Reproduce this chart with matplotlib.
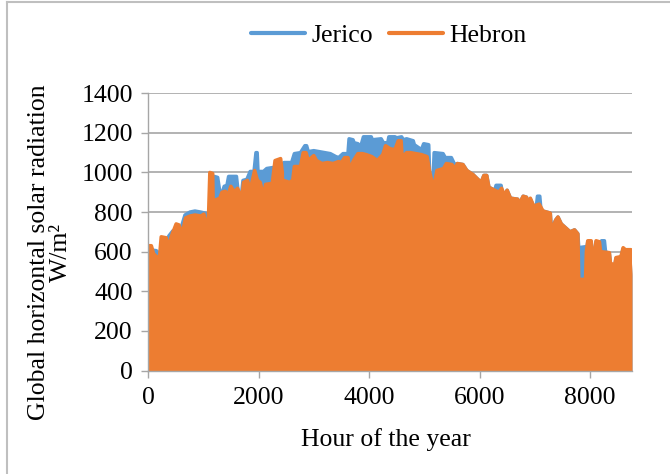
import numpy as np
import matplotlib.pyplot as plt
from matplotlib.lines import Line2D

# daily peak envelope of hourly global horizontal radiation (W/m2)
jerico_hours = [0, 150, 170, 182, 195, 250, 300, 380, 450, 520, 600, 670, 760, 850, 950,
                1030, 1090, 1130, 1170, 1185, 1200, 1260, 1300, 1340, 1380, 1430, 1460, 1600,
                1640, 1690, 1720, 1790, 1850, 1920, 1955, 1975, 1990, 2090, 2150, 2270, 2380,
                2440, 2460, 2600, 2650, 2760, 2840, 2870, 2900, 3000, 3100, 3200, 3300, 3400,
                3450, 3530, 3620, 3640, 3710, 3730, 3800, 3850, 3900, 4040, 4060, 4220, 4260,
                4340, 4360, 4470, 4500, 4590, 4620, 4680, 4800, 4820, 4950, 4990, 5080, 5100,
                5160, 5180, 5340, 5380, 5490, 5550, 5600, 5700, 5770, 5880, 5990, 6030, 6080,
                6130, 6170, 6280, 6300, 6390, 6410, 6450, 6500, 6560, 6690, 6720, 6790, 6850,
                6890, 6920, 6980, 7030, 7050, 7090, 7110, 7150, 7280, 7300, 7380, 7420, 7480,
                7560, 7640, 7720, 7780, 7795, 7920, 7935, 7960, 8020, 8040, 8090, 8110, 8170,
                8190, 8210, 8260, 8280, 8350, 8370, 8450, 8470, 8560, 8600, 8640, 8740, 8760]
jerico_peak = [610, 605, 600, 185, 590, 600, 640, 680, 705, 705, 720, 785, 800, 805, 800,
               795, 790, 780, 785, 580, 980, 975, 900, 895, 930, 935, 980, 980,
               880, 880, 960, 965, 1005, 1005, 1100, 1100, 1005, 1005, 1020, 1025, 1030,
               1040, 1050, 1050, 1095, 1100, 1135, 1135, 1105, 1110, 1105, 1100, 1095, 1080,
               1075, 1095, 1095, 1170, 1165, 1150, 1145, 1130, 1180, 1180, 1165, 1170, 1150,
               1150, 1180, 1180, 1175, 1180, 1165, 1170, 1160, 1140, 1115, 1145, 1140, 960,
               960, 1100, 1095, 1075, 1075, 1040, 1045, 1040, 1010, 990, 960, 950, 985,
               985, 925, 910, 935, 935, 900, 885, 910, 870, 865, 840, 880, 875,
               835, 865, 830, 830, 880, 880, 815, 805, 795, 715, 760, 775, 740,
               720, 700, 710, 690, 620, 625, 600, 650, 650, 600, 600, 650, 645,
               600, 655, 655, 600, 590, 535, 530, 565, 570, 615, 605, 605, 480]

hebron_hours = [0, 60, 100, 170, 190, 205, 240, 330, 365, 380, 440, 510, 560, 620, 680, 760,
                850, 960, 1010, 1060, 1090, 1120, 1170, 1195, 1215, 1300, 1340, 1400, 1440,
                1500, 1560, 1620, 1700, 1730, 1800, 1850, 1930, 1980, 2030, 2090, 2130, 2250,
                2300, 2400, 2430, 2437, 2450, 2560, 2620, 2650, 2760, 2810, 2860, 2900, 3000,
                3050, 3150, 3250, 3350, 3450, 3500, 3560, 3620, 3650, 3720, 3800, 3880, 3950,
                4050, 4150, 4250, 4300, 4380, 4470, 4530, 4580, 4600, 4680, 4750, 4850, 4950,
                5050, 5100, 5150, 5190, 5230, 5350, 5400, 5500, 5550, 5600, 5700, 5770, 5880,
                5990, 6030, 6080, 6130, 6170, 6280, 6350, 6400, 6450, 6500, 6560, 6690, 6720,
                6790, 6850, 6890, 6920, 6980, 7080, 7150, 7280, 7300, 7380, 7420, 7480, 7560,
                7640, 7720, 7780, 7795, 7920, 7935, 7960, 8020, 8040, 8090, 8110, 8170, 8190,
                8350, 8370, 8450, 8470, 8560, 8600, 8640, 8740, 8760]
hebron_peak = [630, 630, 590, 570, 420, 560, 675, 670, 490, 640, 690, 740, 735, 690, 770, 780,
               785, 780, 790, 730, 720, 1000, 995, 560, 860, 870, 900, 905, 880,
               930, 900, 920, 870, 950, 960, 910, 1010, 960, 950, 880, 940, 945,
               1060, 1070, 1000, 810, 960, 950, 960, 1030, 1030, 1100, 1100, 1060, 1085,
               1060, 1045, 1050, 1045, 1055, 1050, 1075, 1075, 1010, 1060, 1095, 1095, 1090,
               1080, 1060, 1090, 1135, 1120, 1115, 1160, 1160, 1075, 1100, 1100, 1095, 1090,
               1080, 1000, 940, 950, 1010, 1020, 1045, 1040, 1020, 1045, 1040, 1010, 990,
               960, 950, 985, 985, 925, 910, 900, 920, 885, 910, 870, 865, 840,
               880, 875, 835, 870, 830, 840, 805, 795, 700, 760, 775, 740, 720,
               700, 710, 690, 460, 460, 600, 655, 655, 600, 600, 655, 650, 600,
               595, 540, 535, 570, 575, 620, 610, 610, 490]

series = [('Jerico', jerico_hours, jerico_peak, '#5B9BD5'),
          ('Hebron', hebron_hours, hebron_peak, '#ED7D31')]

yticks = [0, 200, 400, 600, 800, 1000, 1200, 1400]
xticks = [0, 2000, 4000, 6000, 8000]

plt.rcParams['font.family'] = ['Liberation Serif', 'DejaVu Serif']
fs = 18.5

fig = plt.figure(figsize=(6.7, 4.74), dpi=100)
ax = fig.add_axes([148 / 670, 1 - 370.5 / 474, 484 / 670, 277.2 / 474])

for name, hrs, peak, col in series:
    ax.fill_between(hrs, 0, peak, color=col, lw=0, zorder=2)
    ax.plot(hrs, peak, color=col, lw=2.6, solid_joinstyle='round', solid_capstyle='butt', zorder=2)

ax.set_xlim(0, 8760)
ax.set_ylim(0, 1400)
ax.set_xticks(xticks)
ax.set_yticks(yticks)
ax.tick_params(axis='both', labelsize=fs, color='#A6A6A6', length=5, width=1)
ax.tick_params(axis='y', pad=6)
ax.tick_params(axis='x', pad=7)
ax.yaxis.grid(True, color='#A6A6A6', lw=1.2, zorder=1)
ax.set_axisbelow(True)
for s in ['top', 'right']:
    ax.spines[s].set_visible(False)
for s in ['left', 'bottom']:
    ax.spines[s].set_color('#A6A6A6')
    ax.spines[s].set_linewidth(1)

handles = [Line2D([], [], color=c, lw=3, solid_capstyle='round') for _, _, _, c in series]
fig.legend(handles, [n for n, _, _, _ in series], loc='center', bbox_to_anchor=(389 / 670, 1 - 36 / 474),
           ncol=2, frameon=False, fontsize=fs, handlelength=2.1, handletextpad=0.25, columnspacing=0.6)

fig.text(386 / 670, 1 - 440 / 474, 'Hour of the year', ha='center', va='center', fontsize=fs)
fig.text(50 / 670, 1 - 252 / 474, 'Global horizontal solar radiation\nW/m\u00b2', rotation=90,
         ha='center', va='center', fontsize=fs, multialignment='center', linespacing=0.95)

# chart area border
fig.add_artist(Line2D([7 / 670, 7 / 670], [0, 1 - 2 / 474], color='#BFBFBF', lw=1.5))
fig.add_artist(Line2D([7 / 670, 1], [1 - 2 / 474, 1 - 2 / 474], color='#BFBFBF', lw=1.5))

fig.savefig('out.png', dpi=100)
